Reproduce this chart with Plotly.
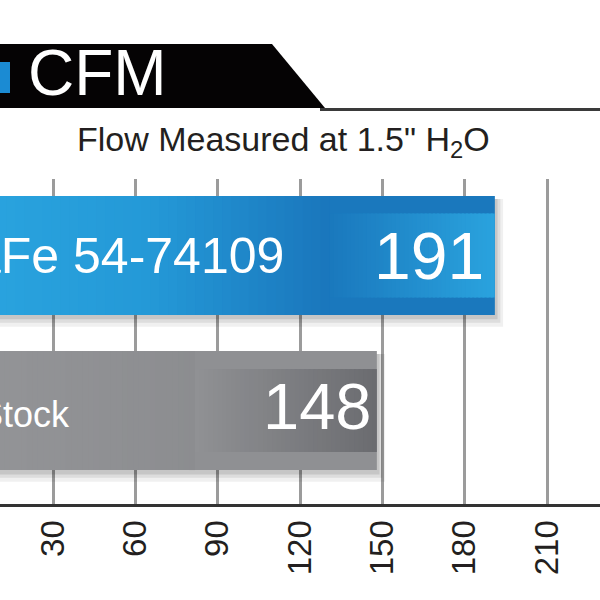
import plotly.graph_objects as go

# ---------------- data ----------------
categories = ["aFe 54-74109", "Stock"]
cfm_values = [191, 148]
tick_values = [30, 60, 90, 120, 150, 180, 210]
tick_labels = ["30", "60", "90", "120", "150", "180", "210"]
title_text = "CFM"
subtitle_text = 'Flow Measured at 1.5" H<sub>2</sub>O'

# ---------------- style ----------------
W = H = 600
FONT = "Liberation Sans, Arial, Helvetica, sans-serif"
PLOT_TOP, PLOT_BOTTOM = 179, 504
X_RANGE = [10.69, 229.31]
Y_RANGE = [1.603, -0.4935]
BAR_W = 0.768

# per-bar styling (same order as categories)
bar_base_colors = ["#1a78bd", "#8f9093"]
outer_grad = [["#2aa4df", "#2499d7", "#1a76bc"], ["#939497", "#909194", "#8c8d90"]]
outer_frac = [0.685, 0.552]
inner_grad = [["#1a78bd", "#2aa3de"], ["#909194", "#6b6c70"]]
inner_w = [0.542, 0.535]
label_sizes = [50, 36]
label_px = [-29, -23]
label_yshift = [0, -4]
value_sizes = [66, 65]
value_xshift = [-9, -4]
value_yshift = [0, 4]


def hex_to_rgb(h):
    h = h.lstrip("#")
    return [int(h[i:i + 2], 16) for i in (0, 2, 4)]


def interp(stops, t):
    n = len(stops) - 1
    pos = t * n
    i = min(int(pos), n - 1)
    f = pos - i
    a, b = hex_to_rgb(stops[i]), hex_to_rgb(stops[i + 1])
    c = [round(a[k] + (b[k] - a[k]) * f) for k in range(3)]
    return "rgb(%d,%d,%d)" % tuple(c)


def gradient_bar(cat, start, end, stops, width, n=40):
    seg = (end - start) / n
    bases = [start + i * seg for i in range(n)]
    lens = [seg * 1.5 if i < n - 1 else seg for i in range(n)]
    cols = [interp(stops, (i + 0.5) / n) for i in range(n)]
    return go.Bar(
        y=[cat] * n, x=lens, base=bases, orientation="h", width=width,
        marker=dict(color=cols, line=dict(width=0)),
        hoverinfo="skip", showlegend=False,
    )


def px_x(p):
    return p / W


def px_y(p):
    return (PLOT_BOTTOM - p) / (PLOT_BOTTOM - PLOT_TOP)


fig = go.Figure()

# soft drop shadows
for dy, dx, a in [(0.075, 3.0, 0.06), (0.05, 2.0, 0.08), (0.028, 1.0, 0.10)]:
    fig.add_trace(go.Bar(
        y=categories, x=[v + dx for v in cfm_values], orientation="h",
        width=BAR_W + dy - 0.02, offset=-BAR_W / 2 + 0.02,
        marker=dict(color="rgba(0,0,0,%.2f)" % a, line=dict(width=0)),
        hoverinfo="skip", showlegend=False,
    ))

# main bars
fig.add_trace(go.Bar(
    y=categories, x=cfm_values, orientation="h", width=BAR_W,
    marker=dict(color=bar_base_colors, line=dict(width=0)),
    showlegend=False,
))

# gradient overlays
for i, (cat, v) in enumerate(zip(categories, cfm_values)):
    fig.add_trace(gradient_bar(cat, 0, v * outer_frac[i], outer_grad[i], BAR_W))
    fig.add_trace(gradient_bar(cat, v * outer_frac[i], v, inner_grad[i], inner_w[i]))

annotations = []
for i, (cat, v) in enumerate(zip(categories, cfm_values)):
    annotations.append(dict(
        x=px_x(label_px[i]), y=cat, xref="paper", yref="y", text=cat, showarrow=False,
        xanchor="left", yanchor="middle", yshift=label_yshift[i],
        font=dict(family=FONT, size=label_sizes[i], color="white"),
    ))
    annotations.append(dict(
        x=v, y=cat, xref="x", yref="y", text=str(v), showarrow=False,
        xanchor="right", yanchor="middle", xshift=value_xshift[i], yshift=value_yshift[i],
        font=dict(family=FONT, size=value_sizes[i], color="white"),
    ))

annotations.append(dict(
    x=px_x(26), y=px_y(73), xref="paper", yref="paper", text=title_text,
    showarrow=False, xanchor="left", yanchor="middle",
    font=dict(family=FONT, size=64, color="white"),
))
annotations.append(dict(
    x=px_x(283), y=px_y(142), xref="paper", yref="paper", text=subtitle_text,
    showarrow=False, xanchor="center", yanchor="middle",
    font=dict(family=FONT, size=34, color="#231f20"),
))

shapes = [
    dict(type="path", xref="paper", yref="paper",
         path="M %f,%f L %f,%f L %f,%f L %f,%f Z" % (
             px_x(0), px_y(44), px_x(272), px_y(44), px_x(325), px_y(108), px_x(0), px_y(108)),
         fillcolor="#050304", line=dict(width=0), layer="above"),
    dict(type="line", xref="paper", yref="paper",
         x0=px_x(320), x1=px_x(600), y0=px_y(109.5), y1=px_y(109.5),
         line=dict(color="#3a3a3a", width=3), layer="above"),
    dict(type="rect", xref="paper", yref="paper",
         x0=px_x(0), x1=px_x(10), y0=px_y(62), y1=px_y(93),
         fillcolor="#1b8bd3", line=dict(width=0), layer="above"),
]

fig.update_layout(
    width=W, height=H,
    margin=dict(l=0, r=0, t=PLOT_TOP, b=H - PLOT_BOTTOM, pad=0),
    paper_bgcolor="white", plot_bgcolor="white",
    barmode="overlay", showlegend=False,
    annotations=annotations, shapes=shapes,
    font=dict(family=FONT),
    xaxis=dict(
        range=X_RANGE, tickvals=tick_values, ticktext=tick_labels,
        tickangle=-90, tickfont=dict(family=FONT, size=33, color="#231f20"),
        showgrid=True, gridcolor="#9b9b9b", gridwidth=3,
        showline=True, linecolor="#333333", linewidth=3,
        ticks="", ticklabelstandoff=0, zeroline=False, fixedrange=True,
    ),
    yaxis=dict(
        type="category", categoryorder="array", categoryarray=categories,
        range=Y_RANGE, showticklabels=False, showgrid=False, zeroline=False,
        fixedrange=True,
    ),
)

fig.write_html(
    "out.html",
    config={"displayModeBar": False},
    post_script="document.body.style.margin='0';document.body.style.overflow='hidden';",
)
